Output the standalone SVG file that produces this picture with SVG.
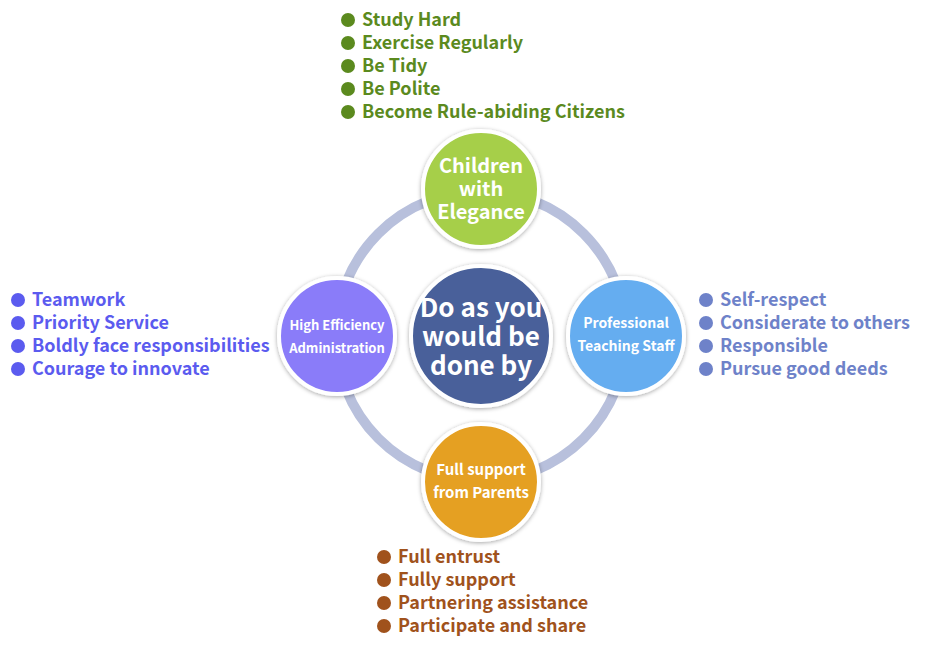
<svg xmlns="http://www.w3.org/2000/svg" width="950" height="660" viewBox="0 0 950 660">
<style>
text{font-family:"Noto Sans CJK SC","Noto Sans","Liberation Sans",sans-serif;font-weight:bold}
.li{font-size:18px}
.ct{fill:#fff;text-anchor:middle}
.node{stroke:#fff;stroke-width:4;filter:url(#sh)}
.g{fill:#5b8a1e}.p{fill:#5b5bef}.b{fill:#6e82c9}.o{fill:#a0521c}
</style>
<defs>
<filter id="sh" x="-20%" y="-20%" width="140%" height="140%">
<feDropShadow dx="0" dy="1" stdDeviation="2" flood-color="#000" flood-opacity="0.35"/>
</filter>
</defs>
<g id="connectors">
<circle cx="481" cy="336" r="145" fill="none" stroke="#b8c0dc" stroke-width="10"/>
</g>
<g id="center">
<circle class="node" cx="481" cy="336" r="70" fill="#48609a"/>
<text class="ct" font-size="26" x="481" y="317">Do as you</text>
<text class="ct" font-size="26" x="481" y="346">would be</text>
<text class="ct" font-size="26" x="481" y="375">done by</text>
</g>
<g id="top">
<circle class="node" cx="481" cy="189" r="58" fill="#a6cf4a"/>
<text class="ct" font-size="20" x="481" y="173">Children</text>
<text class="ct" font-size="20" x="481" y="196">with</text>
<text class="ct" font-size="20" x="481" y="219">Elegance</text>
</g>
<g id="left">
<circle class="node" cx="337" cy="336" r="58" fill="#8a7cf9"/>
<text class="ct" font-size="13" x="337" y="330">High Efficiency</text>
<text class="ct" font-size="13" x="337" y="353">Administration</text>
</g>
<g id="right">
<circle class="node" cx="626" cy="336" r="58" fill="#65adf0"/>
<text class="ct" font-size="14" x="626" y="328">Professional</text>
<text class="ct" font-size="14" x="626" y="351">Teaching Staff</text>
</g>
<g id="bottom">
<circle class="node" cx="481" cy="482" r="58" fill="#e5a023"/>
<text class="ct" font-size="15" x="481" y="475">Full support</text>
<text class="ct" font-size="15" x="481" y="498">from Parents</text>
</g>
<g id="top-list" class="g">
<circle cx="348" cy="20" r="7"/><text class="li" x="362" y="26">Study Hard</text>
<circle cx="348" cy="43" r="7"/><text class="li" x="362" y="49">Exercise Regularly</text>
<circle cx="348" cy="66" r="7"/><text class="li" x="362" y="72">Be Tidy</text>
<circle cx="348" cy="89" r="7"/><text class="li" x="362" y="95">Be Polite</text>
<circle cx="348" cy="112" r="7"/><text class="li" x="362" y="118">Become Rule-abiding Citizens</text>
</g>
<g id="left-list" class="p">
<circle cx="18" cy="300" r="7"/><text class="li" x="32" y="306">Teamwork</text>
<circle cx="18" cy="323" r="7"/><text class="li" x="32" y="329">Priority Service</text>
<circle cx="18" cy="346" r="7"/><text class="li" x="32" y="352">Boldly face responsibilities</text>
<circle cx="18" cy="369" r="7"/><text class="li" x="32" y="375">Courage to innovate</text>
</g>
<g id="right-list" class="b">
<circle cx="706" cy="300" r="7"/><text class="li" x="720" y="306">Self-respect</text>
<circle cx="706" cy="323" r="7"/><text class="li" x="720" y="329">Considerate to others</text>
<circle cx="706" cy="346" r="7"/><text class="li" x="720" y="352">Responsible</text>
<circle cx="706" cy="369" r="7"/><text class="li" x="720" y="375">Pursue good deeds</text>
</g>
<g id="bottom-list" class="o">
<circle cx="384" cy="557" r="7"/><text class="li" x="398" y="563">Full entrust</text>
<circle cx="384" cy="580" r="7"/><text class="li" x="398" y="586">Fully support</text>
<circle cx="384" cy="603" r="7"/><text class="li" x="398" y="609">Partnering assistance</text>
<circle cx="384" cy="626" r="7"/><text class="li" x="398" y="632">Participate and share</text>
</g>
</svg>
